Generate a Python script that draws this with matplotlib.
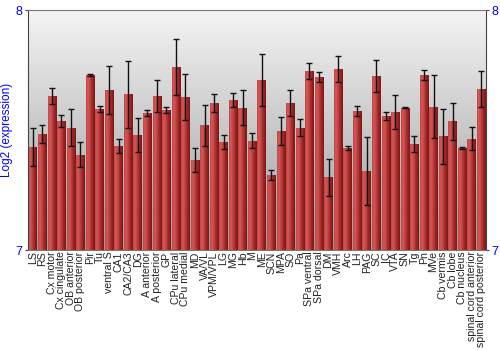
import numpy as np
import matplotlib.pyplot as plt
from matplotlib.colors import LinearSegmentedColormap

regions = ["LS", "RS", "Cx motor", "Cx cingulate", "OB anterior", "OB posterior", "Pir", "Tu",
           "ventral S", "CA1", "CA2/CA3", "DG", "A anterior", "A posterior", "GP", "CPu lateral",
           "CPu medial", "MD", "VA/VL", "VPM/VPL", "LG", "MG", "Hb", "M", "ME", "SCN", "MPA", "SO",
           "Pa", "SPa ventral", "SPa dorsal", "DM", "VMH", "Arc", "LH", "PAG", "SC", "IC", "VTA",
           "SN", "Tg", "Pn", "MVe", "Cb vermis", "Cb lobe", "Cb nucleus", "spinal cord anterior",
           "spinal cord posterior"]
expression = [7.430, 7.483, 7.642, 7.538, 7.510, 7.397, 7.729, 7.589,
              7.668, 7.433, 7.649, 7.479, 7.571, 7.642, 7.583, 7.761,
              7.638, 7.374, 7.519, 7.613, 7.449, 7.625, 7.592, 7.455, 7.708, 7.313, 7.496, 7.614,
              7.510, 7.747, 7.721, 7.303, 7.754, 7.425, 7.578, 7.329, 7.724, 7.558, 7.574,
              7.593, 7.443, 7.728, 7.597, 7.474, 7.536, 7.425, 7.463,
              7.671]
error = [0.078, 0.038, 0.032, 0.024, 0.078, 0.053, 0.003, 0.012,
         0.100, 0.028, 0.140, 0.069, 0.011, 0.065, 0.014, 0.117,
         0.096, 0.049, 0.087, 0.039, 0.029, 0.030, 0.073, 0.031, 0.110, 0.022, 0.059, 0.054,
         0.035, 0.033, 0.021, 0.078, 0.054, 0.010, 0.021, 0.142, 0.067, 0.015, 0.071,
         0.003, 0.033, 0.020, 0.131, 0.114, 0.077, 0.006, 0.048,
         0.074]

blue = "#0000ff"
plt.rcParams['font.family'] = ['Liberation Sans', 'DejaVu Sans']

fig = plt.figure(figsize=(5, 3.5), dpi=100)
ax = fig.add_axes([0.056, 0.2857, 0.916, 0.6857])

x = np.arange(len(regions))

# background gradient, light at top, gray at bottom
bg = LinearSegmentedColormap.from_list("bg", ["#9c9c9c", "#f4f4f4"])
ax.imshow(np.linspace(0, 1, 256).reshape(-1, 1), cmap=bg, origin="lower", aspect="auto",
          extent=[-0.5, len(regions) - 0.5, 7, 8], zorder=0)

# cylinder-shaded bars
barmap = LinearSegmentedColormap.from_list("bar", ["#c24848", "#d45858", "#bb3c3c", "#9a2525", "#7c1616"])
grad = np.linspace(0, 1, 64).reshape(1, -1)
bars = ax.bar(x, np.array(expression) - 7, bottom=7, width=0.9, color="none", edgecolor="none", zorder=2)
for b in bars:
    x0, y0 = b.get_x(), b.get_y()
    im = ax.imshow(grad, cmap=barmap, aspect="auto", zorder=2,
                   extent=[x0, x0 + b.get_width(), y0, y0 + b.get_height()])
    im.set_clip_path(b)
ax.set_xlim(-0.5, len(regions) - 0.5)
ax.set_ylim(7, 8)

ax.errorbar(x, expression, yerr=error, fmt="none", ecolor="#111111", elinewidth=1,
            capsize=2, capthick=1, zorder=3)

ax.set_xticks(x)
ax.set_xticklabels(regions, rotation=90, fontsize=7.6, color="#222222")
ax.tick_params(axis="x", length=0, pad=1)
ax.set_yticks([7, 8])
ax.set_yticklabels(["7", "8"], fontsize=9, color=blue)
ax.tick_params(axis="y", length=2, pad=2, right=True, labelright=True, color="#444444")
ax.set_ylabel("Log2 (expression)", color=blue, fontsize=8.5, labelpad=2)

for side in ["left", "right"]:
    ax.spines[side].set_color("#444444")
ax.spines["top"].set_color("#777777")
ax.spines["bottom"].set_color("#777777")

fig.savefig("out.png", dpi=100)
